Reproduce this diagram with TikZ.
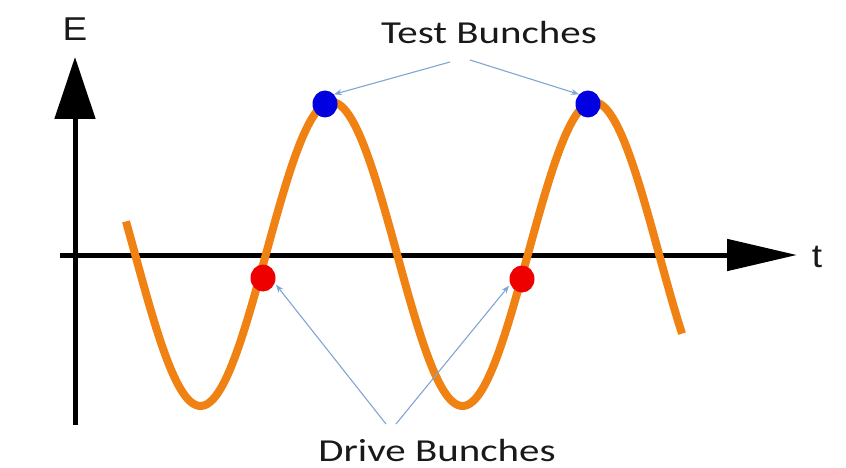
\documentclass[tikz,border=0pt]{standalone}
\usepackage{fontspec}
\setmainfont{Carlito}
\newfontfamily\axisfont{Liberation Sans}
\usetikzlibrary{arrows.meta,shapes.geometric}
\definecolor{wave}{RGB}{240,130,20}
\definecolor{pointer}{RGB}{130,165,210}
\definecolor{testc}{RGB}{0,0,225}
\definecolor{drivec}{RGB}{238,0,0}
\tikzset{
  axisline/.style={line width=5pt, black},
  axislbl/.style={font=\axisfont\fontsize{33}{35}\selectfont, xscale=1.12, text=black!90, inner sep=0pt},
  pointerline/.style={pointer, line width=1.1pt, -{Stealth[length=8pt,width=6pt]}},
  bunch/.style={ellipse, inner sep=0pt, minimum width=25pt, minimum height=27pt},
  lbl/.style={font=\fontsize{32}{34}\selectfont, xscale=1.28, text=black!90, inner sep=0pt},
}
\begin{document}
\begin{tikzpicture}[x=1pt,y=-1pt]
\fill[white] (0,0) rectangle (846,468);
\useasboundingbox (0,0) rectangle (846,468);
% axes
\coordinate (ybot) at (75,425);
\coordinate (ytop) at (75,57);
\coordinate (xl) at (60,255);
\coordinate (xr) at (797,255);
\draw[axisline, -{Triangle[length=62pt,width=40pt]}] (ybot) -- (ytop);
\draw[axisline, -{Triangle[length=70pt,width=31pt]}] (xl) -- (xr);
\node[axislbl] (E) at (75,29) {E};
\node[axislbl] (t) at (817,257) {t};
% wave
\draw[wave, line width=8pt] plot[domain=126:682, samples=200, smooth]
  (\x, {254 - 152*sin(1.37405*(\x-266))});
% bunches
\node[bunch, fill=testc] (b1) at (325,104) {};
\node[bunch, fill=testc] (b2) at (588,104) {};
\node[bunch, fill=drivec] (r1) at (263,278) {};
\node[bunch, fill=drivec] (r2) at (522,279) {};
% labels
\node[lbl] (test) at (489,33) {Test Bunches};
\node[lbl] (drive) at (437,451) {Drive Bunches};
\coordinate (tl) at (450,62);
\coordinate (tr) at (470,60);
\coordinate (dl) at (386,424);
\coordinate (dr) at (396,424);
\draw[pointerline] (tl) -- (b1.north east);
\draw[pointerline] (tr) -- (b2.north west);
\draw[pointerline] (dl) -- ([xshift=4pt,yshift=3pt]r1.south east);
\draw[pointerline] (dr) -- ([xshift=-4pt,yshift=3pt]r2.south west);
\end{tikzpicture}
\end{document}
